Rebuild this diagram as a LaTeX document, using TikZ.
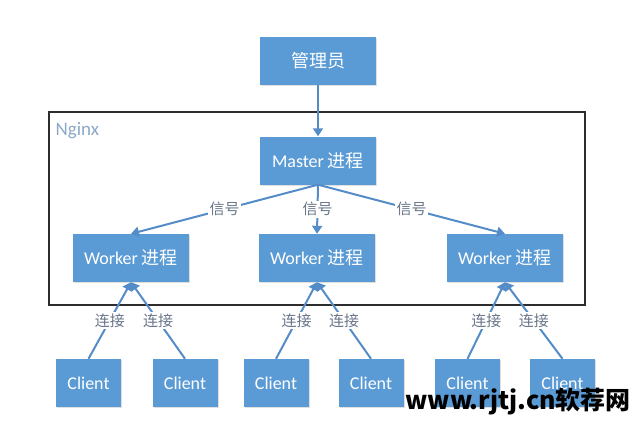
\documentclass[tikz,border=0pt]{standalone}
\usepackage{fontspec}
\setmainfont{Carlito}
\newfontfamily\cjk{Noto Sans CJK SC}
\usetikzlibrary{arrows.meta,shadows}
\definecolor{boxblue}{RGB}{91,155,213}
\definecolor{lineblue}{RGB}{84,140,200}
\definecolor{lblgray}{RGB}{105,118,138}
\definecolor{nginxc}{RGB}{140,168,200}
\definecolor{framec}{RGB}{45,45,45}
\begin{document}
\begin{tikzpicture}[x=1pt,y=-1pt,
  box/.style={fill=boxblue, draw=none, text=white, minimum width=116pt, minimum height=48pt,
    inner sep=0pt, font=\fontsize{18}{20}\selectfont,
    drop shadow={shadow xshift=1.2pt,shadow yshift=-1.2pt,opacity=0.25}},
  client/.style={box, minimum width=65pt},
  conn/.style={draw=lineblue, line width=2pt, -{Triangle[length=8pt,width=10pt]}},
  lbl/.style={fill=white, text=lblgray, inner sep=1.5pt, font=\cjk\fontsize{15}{16}\selectfont},
  frame/.style={draw=framec, line width=1.3pt, minimum width=536pt, minimum height=193pt, inner sep=0pt}]
\useasboundingbox (0,0) rectangle (640,445);

\node[frame] (nginx) at (317,208.5) {};
\node[anchor=west, text=nginxc, font=\fontsize{19}{20}\selectfont] (nginxlbl) at (52,131) {Nginx};

\node[box] (admin) at (318,61) {\cjk 管理员};
\node[box] (master) at (318,160.5) {Master {\cjk 进程}};

\node[box] (w1) at (131,258) {Worker {\cjk 进程}};
\node[box] (w2) at (317,258) {Worker {\cjk 进程}};
\node[box] (w3) at (505,258) {Worker {\cjk 进程}};

\node[client] (c1) at (88.5,383) {Client};
\node[client] (c2) at (185,383) {Client};
\node[client] (c3) at (276,383) {Client};
\node[client] (c4) at (371,383) {Client};
\node[client] (c5) at (467.5,383) {Client};
\node[client] (c6) at (562.5,383) {Client};

\draw[conn] (admin.south) -- (master.north);
\draw[conn] (master.south) -- node[lbl] {信号} (w1.north);
\draw[conn] (master.south) -- node[lbl] {信号} (w2.north);
\draw[conn] (master.south) -- node[lbl] {信号} (w3.north);

\draw[conn] (c1.north) -- node[lbl] {连接} (w1.south);
\draw[conn] (c2.north) -- node[lbl] {连接} (w1.south);
\draw[conn] (c3.north) -- node[lbl] {连接} (w2.south);
\draw[conn] (c4.north) -- node[lbl] {连接} (w2.south);
\draw[conn] (c5.north) -- node[lbl] {连接} (w3.south);
\draw[conn] (c6.north) -- node[lbl] {连接} (w3.south);

\node[anchor=base west, inner sep=0pt, font=\cjk\bfseries\fontsize{25}{25}\selectfont] (wm) at (405,409) {www.rjtj.cn软荐网};
\end{tikzpicture}
\end{document}
